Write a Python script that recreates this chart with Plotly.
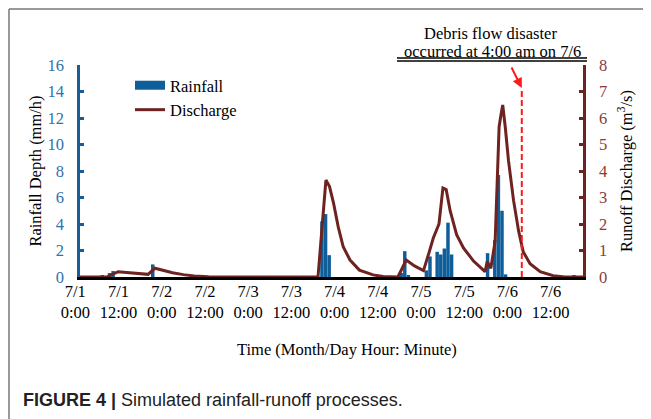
import plotly.graph_objects as go

# ---------------- data ----------------
# time axis: hours since 7/1 0:00
tick_hours = [0, 12, 24, 36, 48, 60, 72, 84, 96, 108, 120, 132]
tick_labels = ["7/1<br>0:00", "7/1<br>12:00", "7/2<br>0:00", "7/2<br>12:00",
               "7/3<br>0:00", "7/3<br>12:00", "7/4<br>0:00", "7/4<br>12:00",
               "7/5<br>0:00", "7/5<br>12:00", "7/6<br>0:00", "7/6<br>12:00"]

# hourly rainfall (start hour of interval, mm/h)
rain_hours = [7, 9, 10, 21, 68, 69, 70, 90, 91, 92, 97, 98, 100, 101, 102, 103, 104,
              114, 116, 117, 118, 119, 138]
rain_mmh = [0.15, 0.3, 0.45, 0.95, 4.2, 4.75, 1.65, 0.3, 1.95, 0.15, 0.5, 1.55, 1.9, 1.7,
            2.15, 4.1, 1.7, 1.8, 2.8, 7.7, 5.0, 0.2, 0.15]

# simulated discharge (hour, m3/s)
q_hours = [0, 8.7, 11.9, 14, 17, 20.2, 22.1, 24, 27, 30, 33, 37, 40,
           67.4, 69.6, 70.6, 71.7, 73, 74.4, 76.3, 78.9, 82.7, 85.5, 89.6,
           91.9, 94.2, 96.7, 98.3, 99.4, 101, 102.1, 103, 104.1, 105.9, 107.8, 110.6, 113.8,
           114.4, 115.4, 116.6, 117.7, 118.2, 118.7, 119.4, 120.3, 121.7, 123.1, 124.4,
           126.3, 129.1, 132.7, 136, 142]
q_vals = [0, 0, 0.2, 0.17, 0.13, 0.1, 0.33, 0.26, 0.16, 0.09, 0.04, 0.01, 0,
          0, 3.66, 3.41, 2.8, 1.9, 1.14, 0.64, 0.26, 0.08, 0.02, 0,
          0.64, 0.42, 0.24, 0.95, 1.46, 2.0, 3.36, 3.3, 2.5, 1.6, 1.1, 0.6, 0.2,
          0.58, 0.33, 1.35, 5.67, 6.1, 6.49, 5.67, 4.4, 2.9, 1.75, 0.95,
          0.5, 0.2, 0.05, 0, 0]

debris_hour = 124          # 7/6 4:00
debris_top = 7.13          # top of the marker line (discharge units)
x_range = [1.3, 141]
label_range = [-3, 141]

# ---------------- geometry (page pixels; the page body adds an 8px offset) ----------------
OFF = 8
W, H = 651 - OFF, 419 - OFF
ML, MR, MT, MB = 50, 50, 50, 130
PW, PH = W - ML - MR, H - MT - MB
def px_x(p):
    return (p - OFF - ML) / PW
def px_y(p):
    return (H - MB - (p - OFF)) / PH

AX_L, AX_R, AX_B, AX_T = 80, 583, 277, 65
lab_left = AX_R - (label_range[1] - label_range[0]) * (AX_R - AX_L) / (x_range[1] - x_range[0])

SERIF = "Liberation Serif, Times New Roman, serif"
SANS = "Liberation Sans, Arial, sans-serif"
BAR_BLUE = "#0f5e9a"
AX_BLUE = "#1a5c96"
TXT_BLUE = "#2f70ad"
BROWN = "#6e2320"
TXT_RED = "#8c3b36"

fig = go.Figure()
fig.add_trace(go.Scatter(x=[None], y=[None], xaxis="x2", yaxis="y",
                         showlegend=False, hoverinfo="skip"))
fig.add_trace(go.Bar(x=rain_hours, y=rain_mmh, width=0.97, offset=0.015,
                     marker=dict(color=BAR_BLUE, line=dict(width=0)),
                     showlegend=False, xaxis="x", yaxis="y", hoverinfo="skip"))
fig.add_trace(go.Scatter(x=[None], y=[None], mode="lines", name="Rainfall",
                         line=dict(color=BAR_BLUE, width=9), xaxis="x", yaxis="y"))
fig.add_trace(go.Scatter(x=q_hours, y=q_vals, mode="lines", name="Discharge",
                         line=dict(color=BROWN, width=3), xaxis="x", yaxis="y2"))
fig.add_trace(go.Scatter(x=[debris_hour, debris_hour], y=[0, debris_top], mode="lines",
                         line=dict(color="#ff1a1a", width=2, dash="6px,3px"),
                         showlegend=False, xaxis="x", yaxis="y2", hoverinfo="skip"))

fig.update_layout(
    width=W, height=H,
    margin=dict(l=ML, r=MR, t=MT, b=MB, pad=0),
    template="none",
    paper_bgcolor="white", plot_bgcolor="rgba(0,0,0,0)",
    xaxis=dict(domain=[px_x(AX_L), px_x(AX_R)], range=x_range, anchor="y",
               showline=True, linecolor="black", linewidth=3, layer="below traces",
               showticklabels=False, ticks="", showgrid=False, zeroline=False,
               automargin=False),
    xaxis2=dict(domain=[px_x(lab_left), px_x(AX_R)],
                range=label_range, anchor="free", position=px_y(AX_B),
                showline=False, ticks="", showgrid=False, zeroline=False,
                tickmode="array", tickvals=tick_hours, ticktext=tick_labels,
                tickfont=dict(family=SERIF, size=16.5, color="black"),
                ticklabelstandoff=2, automargin=False),
    yaxis=dict(domain=[px_y(AX_B), px_y(AX_T)], range=[0, 16], dtick=2, tick0=0,
               anchor="x", ticks="inside", ticklen=4, tickwidth=2.5, tickcolor=AX_BLUE,
               showline=True, linecolor=AX_BLUE, linewidth=2.5,
               tickfont=dict(family=SERIF, size=16.5, color=TXT_BLUE),
               ticklabelstandoff=10,
               title=dict(text="Rainfall Depth (mm/h)", standoff=2,
                          font=dict(family=SERIF, size=16.5, color="black")),
               showgrid=False, zeroline=False, automargin=False),
    yaxis2=dict(overlaying="y", side="right", anchor="x", range=[0, 8], dtick=1, tick0=0,
                ticks="inside", ticklen=4, tickwidth=2.5, tickcolor=BROWN,
                showline=True, linecolor=BROWN, linewidth=2.5,
                tickfont=dict(family=SERIF, size=16.5, color=TXT_RED),
                ticklabelstandoff=10,
                title=dict(text="Runoff Discharge (m<sup>3</sup>/s)", standoff=15,
                           font=dict(family=SERIF, size=16.5, color="black")),
                showgrid=False, zeroline=False, automargin=False),
    legend=dict(x=px_x(130), y=px_y(68), xanchor="left", yanchor="top",
                bgcolor="rgba(0,0,0,0)", font=dict(family=SERIF, size=16.5, color="black"),
                itemwidth=30, traceorder="normal"),
    showlegend=True,
)

fig.add_annotation(x=debris_hour, y=debris_top, xref="x", yref="y2", text="",
                   showarrow=True, arrowhead=2, arrowsize=1, arrowwidth=2,
                   arrowcolor="#ff1a1a", ax=-11, ay=-22)
fig.add_annotation(x=px_x(490), y=px_y(34), xref="paper", yref="paper",
                   text="Debris flow disaster", showarrow=False,
                   font=dict(family=SERIF, size=16.5, color="black"),
                   xanchor="center", yanchor="middle")
fig.add_annotation(x=px_x(492), y=px_y(51), xref="paper", yref="paper",
                   text="occurred at 4:00 am on 7/6", showarrow=False,
                   font=dict(family=SERIF, size=16.5, color="black"),
                   xanchor="center", yanchor="middle")
fig.add_annotation(x=px_x(347), y=px_y(349), xref="paper", yref="paper",
                   text="Time (Month/Day Hour: Minute)", showarrow=False,
                   font=dict(family=SERIF, size=16.5, color="black"),
                   xanchor="center", yanchor="middle")
fig.add_annotation(x=px_x(21), y=px_y(400), xref="paper", yref="paper",
                   text="<b>FIGURE 4 |</b> Simulated rainfall-runoff processes.",
                   showarrow=False, font=dict(family=SANS, size=18, color="#222"),
                   xanchor="left", yanchor="middle")

# double underline below the note, and the page frame
for yy in (58, 61):
    fig.add_shape(type="line", xref="paper", yref="paper",
                  x0=px_x(397), x1=px_x(587), y0=px_y(yy), y1=px_y(yy),
                  line=dict(color="black", width=1.5))
fig.add_shape(type="line", xref="paper", yref="paper",
              x0=px_x(9), x1=px_x(651), y0=px_y(9), y1=px_y(9),
              line=dict(color="#777", width=1.5))
fig.add_shape(type="line", xref="paper", yref="paper",
              x0=px_x(9), x1=px_x(9), y0=px_y(9), y1=px_y(419),
              line=dict(color="#777", width=1.5))

fig.write_html("out.html")
